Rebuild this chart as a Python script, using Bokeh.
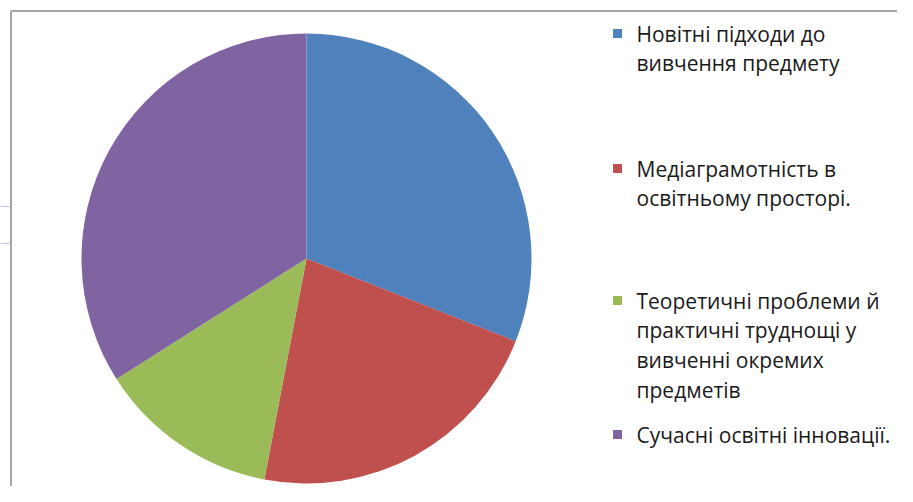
import math
import pandas as pd
from bokeh.plotting import figure
from bokeh.models import Range1d, ColumnDataSource
from bokeh.core.properties import value
from bokeh.embed import file_html
from bokeh.resources import INLINE

# ---- data ----
categories = [
    "Новітні підходи до\nвивчення предмету",
    "Медіаграмотність в\nосвітньому просторі.",
    "Теоретичні проблеми й\nпрактичні труднощі у\nвивченні окремих\nпредметів",
    "Сучасні освітні інновації.",
]
shares = [31, 22, 13, 34]
colors = ["#4F81BD", "#C0504D", "#9BBB59", "#8064A2"]

W, H = 897, 486
p = figure(width=W, height=H, x_range=Range1d(0, W), y_range=Range1d(H, 0),
           output_backend="svg", toolbar_location=None, min_border=0)
p.axis.visible = False
p.grid.visible = False
p.outline_line_color = None
p.background_fill_color = "white"
p.border_fill_color = "white"

# ---- pie: start at 12 o'clock, clockwise ----
df = pd.DataFrame({"cat": categories, "share": shares, "color": colors})
frac = df["share"] / df["share"].sum()
cum_end = frac.cumsum()
cum_start = cum_end - frac
df["start"] = math.pi / 2 - cum_start * 2 * math.pi
df["end"] = math.pi / 2 - cum_end * 2 * math.pi
src = ColumnDataSource(df)
p.wedge(x=306, y=258, radius=225, radius_units="screen",
        start_angle="start", end_angle="end", direction="clock",
        fill_color="color", line_color=None, source=src)

# ---- frame lines (top and left) and small stray ticks ----
p.segment(x0=[10.5, 10.5], y0=[10.5, 10.5], x1=[W, 10.5], y1=[10.5, H],
          line_color="#a6a6a6", line_width=2)
p.segment(x0=[0, 0], y0=[206, 243], x1=[9, 9], y1=[206, 243],
          line_color="#b8c6dc", line_width=1)

# ---- legend ----
item_top = [33, 168, 300, 434]
line_step = 29.7
sq_x, txt_x = 617, 636
sq = ColumnDataSource(dict(x=[sq_x] * len(categories), y=item_top, c=colors))
p.scatter(x="x", y="y", size=9, marker="square", fill_color="c", line_color=None, source=sq)

tx, ty, tt = [], [], []
for top, cat in zip(item_top, categories):
    for i, line in enumerate(cat.split("\n")):
        tx.append(txt_x)
        ty.append(top + i * line_step)
        tt.append(line)
p.text(x=tx, y=ty, text=tt, text_font=value("Open Sans"), text_font_size="21px",
       text_color="#1a1a1a", text_baseline="middle", text_align="left")

open("out.html", "w").write(file_html(p, INLINE))
